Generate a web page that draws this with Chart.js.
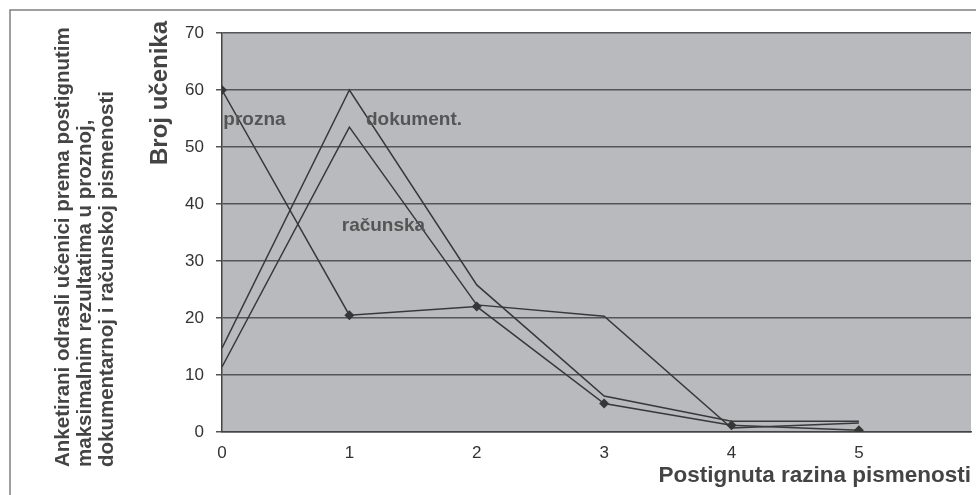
<!DOCTYPE html>
<html>
<head>
<meta charset="utf-8">
<script src="https://cdn.jsdelivr.net/npm/chart.js@4"></script>
<style>
  body { margin: 0; background: #fff; }
  canvas { display: block; }
</style>
</head>
<body>
<canvas id="literacyChart" width="976" height="495"></canvas>
<script>
// postignuta razina (0-5)
const levels = [0, 1, 2, 3, 4, 5];
const prozna = [60, 20.5, 22, 5, 1.2, 0.3];
const dokument = [14.7, 60, 25.8, 6.3, 1.9, 1.9];
const racunska = [11.4, 53.5, 22.3, 20.3, 0.7, 1.6];
const yTicks = [0, 10, 20, 30, 40, 50, 60, 70];

// oznake serija u podatkovnim koordinatama
const seriesLabels = [
    { text: 'prozna', x: 0.01, y: 54.7 },
    { text: 'dokument.', x: 1.13, y: 54.7 },
    { text: 'računska', x: 0.94, y: 36.1 }
];

const titleLines = [
    'Anketirani odrasli učenici prema postignutim',
    'maksimalnim rezultatima u proznoj,',
    'dokumentarnoj i računskoj pismenosti'
];

const toPoints = vals => vals.map((v, i) => ({ x: levels[i], y: v }));

const decorPlugin = {
    id: 'decor',
    beforeDraw(chart) {
        const { ctx, chartArea: a } = chart;
        ctx.save();
        ctx.fillStyle = '#b9babd';
        ctx.fillRect(a.left, a.top, a.right - a.left, a.bottom - a.top);
        // okvir
        ctx.strokeStyle = '#808080';
        ctx.lineWidth = 1.5;
        ctx.beginPath();
        ctx.moveTo(10, 495);
        ctx.lineTo(10, 10);
        ctx.lineTo(976, 10);
        ctx.stroke();
        ctx.restore();
    },
    afterDraw(chart) {
        const { ctx, scales } = chart;
        ctx.save();
        ctx.fillStyle = '#555';
        ctx.font = 'bold 19px "Liberation Sans", Arial, sans-serif';
        ctx.textBaseline = 'middle';
        ctx.textAlign = 'left';
        seriesLabels.forEach(l => {
            ctx.fillText(l.text, scales.x.getPixelForValue(l.x), scales.y.getPixelForValue(l.y));
        });

        // naslov x osi
        ctx.fillStyle = '#444';
        ctx.font = 'bold 22.5px "Liberation Sans", Arial, sans-serif';
        ctx.textAlign = 'right';
        ctx.fillText('Postignuta razina pismenosti', 971, 476);

        // naslov y osi
        ctx.save();
        ctx.translate(160, 93);
        ctx.rotate(-Math.PI / 2);
        ctx.textAlign = 'center';
        ctx.font = 'bold 24px "Liberation Sans", Arial, sans-serif';
        ctx.fillText('Broj učenika', 0, 0);
        ctx.restore();

        // glavni naslov, okomito
        ctx.font = 'bold 20.5px "Liberation Sans", Arial, sans-serif';
        ctx.textAlign = 'left';
        titleLines.forEach((line, i) => {
            ctx.save();
            ctx.translate(63 + i * 22, 467);
            ctx.rotate(-Math.PI / 2);
            ctx.fillText(line, 0, 0);
            ctx.restore();
        });
        ctx.restore();
    }
};

new Chart(document.getElementById('literacyChart').getContext('2d'), {
    type: 'line',
    data: {
        datasets: [{
            label: 'prozna',
            data: toPoints(prozna),
            borderColor: '#383838',
            backgroundColor: '#363636',
            borderWidth: 1.5,
            pointStyle: 'rectRot',
            pointRadius: 5,
            pointBorderWidth: 0
        }, {
            label: 'dokument.',
            data: toPoints(dokument),
            borderColor: '#383838',
            borderWidth: 1.5,
            pointRadius: 0
        }, {
            label: 'računska',
            data: toPoints(racunska),
            borderColor: '#383838',
            borderWidth: 1.5,
            pointRadius: 0
        }]
    },
    options: {
        responsive: false,
        animation: false,
        layout: { padding: { top: 33, right: 0, left: 0, bottom: 0 } },
        plugins: { legend: { display: false }, tooltip: { enabled: false } },
        scales: {
            x: {
                type: 'linear',
                min: 0,
                max: 5.88,
                afterBuildTicks: s => { s.ticks = s.ticks.filter(t => Number.isInteger(t.value) && t.value <= 5); },
                afterFit: s => { s.height = 63; },
                grid: { display: false, drawTicks: false },
                border: { display: true, color: '#444', width: 1.5 },
                ticks: {
                    stepSize: 1,
                    padding: 11,
                    color: '#333',
                    font: { family: '"Liberation Sans", Arial, sans-serif', size: 17 }
                }
            },
            y: {
                min: 0,
                max: 70,
                afterBuildTicks: s => { s.ticks = yTicks.map(v => ({ value: v })); },
                afterFit: s => { s.width = 222; },
                grid: { color: '#555', lineWidth: 1.5, tickLength: 6 },
                border: { display: true, color: '#444', width: 1.5 },
                ticks: {
                    padding: 12,
                    color: '#333',
                    font: { family: '"Liberation Sans", Arial, sans-serif', size: 17 }
                }
            }
        }
    },
    plugins: [decorPlugin]
});
</script>
</body>
</html>
